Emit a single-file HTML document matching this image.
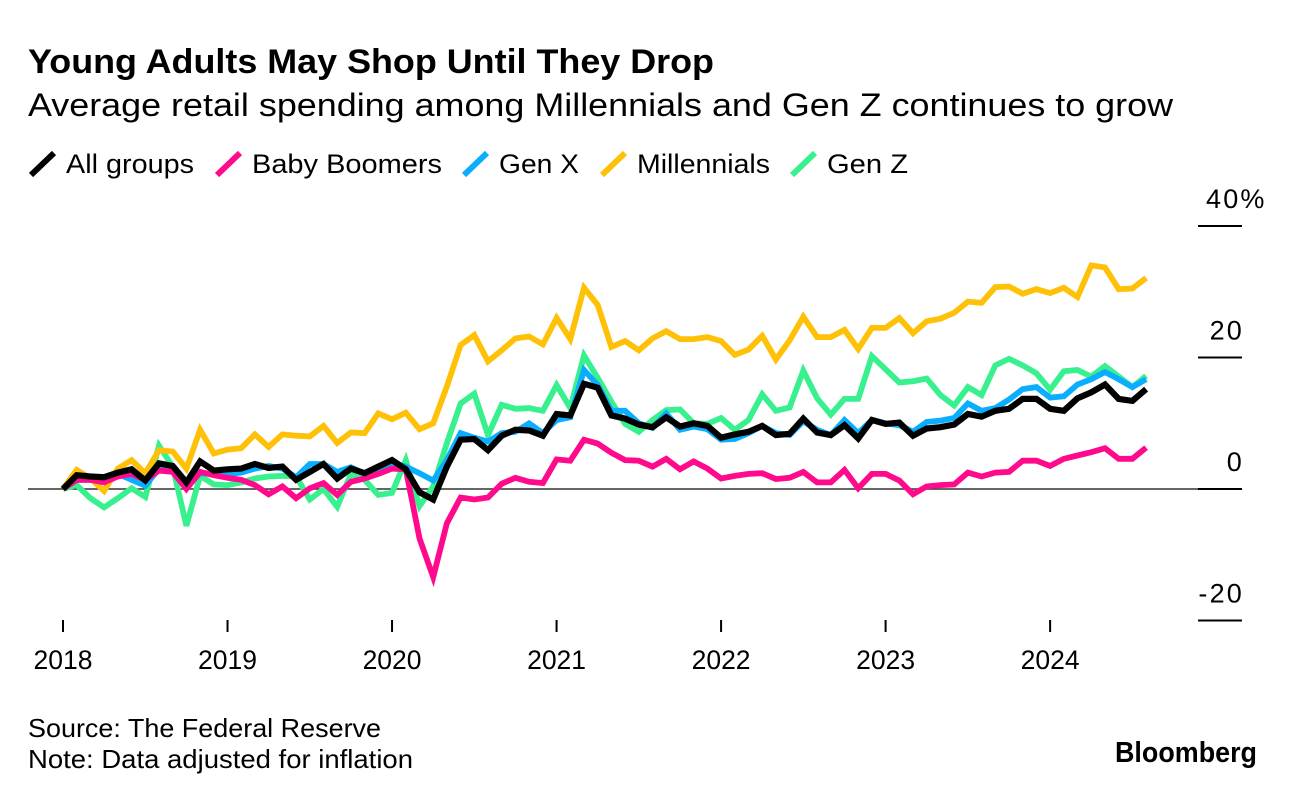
<!DOCTYPE html>
<html lang="en">
<head>
<meta charset="utf-8">
<title>Young Adults May Shop Until They Drop</title>
<style>
html,body{margin:0;padding:0;background:#fff;width:1296px;height:798px;overflow:hidden}
svg{display:block;font-family:"Liberation Sans",sans-serif;fill:#000}
</style>
</head>
<body>
<svg id="chart" width="1296" height="798" viewBox="0 0 1296 798" xmlns="http://www.w3.org/2000/svg">
<rect width="1296" height="798" fill="#fff"/>
<text x="28" y="73" font-size="34" font-weight="700" textLength="686" lengthAdjust="spacingAndGlyphs">Young Adults May Shop Until They Drop</text>
<text x="28" y="116" font-size="32" textLength="1145" lengthAdjust="spacingAndGlyphs">Average retail spending among Millennials and Gen Z continues to grow</text>
<text x="28" y="737" font-size="26" textLength="353" lengthAdjust="spacingAndGlyphs">Source: The Federal Reserve</text>
<text x="28" y="768" font-size="26" textLength="385" lengthAdjust="spacingAndGlyphs">Note: Data adjusted for inflation</text>
<text x="1115" y="762" font-size="29" font-weight="700" textLength="142" lengthAdjust="spacingAndGlyphs">Bloomberg</text>
<g id="legend"></g>
<g id="axes"></g>
<g id="series"></g>
</svg>
<script>
const startYear = 2018;
const yearLabels = [2018, 2019, 2020, 2021, 2022, 2023, 2024];
const yTicks = [40, 20, 0, -20];
const allGroups = [0,2.1,1.9,1.8,2.5,3.0,1.3,3.9,3.5,1.0,4.2,2.8,3.0,3.1,3.8,3.2,3.4,1.4,2.6,3.8,1.6,3.1,2.4,3.4,4.4,3.0,-0.5,-1.6,3.4,7.5,7.6,5.9,8.1,9.0,8.9,8.1,11.4,11.2,16.0,15.4,11.2,10.7,9.8,9.4,10.9,9.5,10,9.6,7.8,8.3,8.7,9.6,8.2,8.4,10.7,8.6,8.2,9.7,7.7,10.5,9.9,10.1,8.1,9.2,9.4,9.8,11.4,11,11.9,12.2,13.7,13.7,12.2,11.9,13.8,14.7,15.9,13.7,13.4,15.2];
const babyBoomers = [0,1.4,1.4,1.0,1.9,2.3,1.4,2.8,2.6,0,2.6,2.1,1.7,1.4,0.6,-0.8,0.4,-1.4,0.1,0.9,-0.9,1.1,1.6,2.3,3.1,3.0,-7.5,-13.4,-5.2,-1.3,-1.6,-1.3,0.8,1.7,1.1,0.9,4.5,4.3,7.5,6.9,5.5,4.4,4.3,3.4,4.6,3.0,4.2,3.1,1.6,2.0,2.3,2.4,1.5,1.7,2.6,1.0,1.0,2.9,0.1,2.3,2.3,1.3,-0.8,0.4,0.6,0.7,2.5,1.9,2.5,2.6,4.3,4.3,3.5,4.6,5.1,5.6,6.2,4.6,4.6,6.3];
const genX = [0,1.4,1.4,1.5,2.3,1.4,0.5,3.1,3.1,0.4,2.4,2.3,2.3,2.5,3.1,3.5,3.1,1.8,3.8,3.8,2.6,3.3,2.3,3.0,4.0,3.4,2.4,1.3,4.4,8.5,7.8,7.2,8.5,8.7,10,8.5,10.5,10.9,18.1,15.8,11.9,11.9,10,9.3,11.5,9,9.5,9.1,7.5,7.6,8.5,9.6,8.5,8.2,10.3,9,8.2,10.5,8.5,10.5,10,9.7,8.7,10.2,10.4,10.8,13,11.9,12.3,13.6,15.2,15.5,13.9,14.1,15.9,16.7,17.8,16.7,15.5,16.7];
const millennials = [0,2.9,1.6,-0.3,3.1,4.4,2.4,5.9,5.7,3.1,9,5.4,6,6.2,8.3,6.4,8.3,8.1,8,9.6,7,8.6,8.5,11.5,10.6,11.6,9.1,10,15.6,21.9,23.4,19.4,21.1,22.9,23.2,22,26,22.8,30.6,28,21.6,22.5,21.1,22.9,24,22.8,22.8,23.1,22.5,20.4,21.2,23.3,19.7,22.6,26.2,23.1,23.1,24.2,21.3,24.5,24.5,26,23.7,25.5,25.9,26.8,28.5,28.3,30.7,30.8,29.7,30.4,29.8,30.6,29.2,34,33.7,30.4,30.5,32.1];
const genZ = [0,0.6,-1.4,-2.8,-1.4,0.1,-1.2,6.6,3.4,-5.6,2,0.7,0.6,1,1.6,1.9,2,1.9,-1.6,0,-2.7,2.3,1.4,-0.9,-0.6,4.4,-2.6,0.4,7,13,14.5,8.2,12.8,12.2,12.3,11.9,15.8,12.3,20.3,16.9,13.3,9.9,8.7,10.5,12,12.1,10,9.9,10.8,9,10.5,14.4,11.9,12.4,18,13.8,11.3,13.7,13.7,20.2,18.2,16.2,16.4,16.8,14.3,12.7,15.5,14.3,18.8,19.8,18.8,17.6,15.1,17.9,18.1,17.1,18.7,17.1,15.5,17.2];
const legendNames = ["All groups", "Baby Boomers", "Gen X", "Millennials", "Gen Z"];

const svgNS = "http://www.w3.org/2000/svg";
const xOfMonth = m => 63 + m * 13.71;
const xOfYear = y => xOfMonth((y - startYear) * 12);
const yOfValue = v => 489 - v * 6.575;
const mk = (tag, parent, props) => {
  const el = document.createElementNS(svgNS, tag);
  Object.keys(props).forEach(k => el.setAttribute(k, props[k]));
  parent.appendChild(el);
  return el;
};

const axes = document.getElementById("axes");
const zeroLine = mk("line", axes, {x1: 28, x2: 1198, y1: yOfValue(0), y2: yOfValue(0), stroke: "#333", "stroke-width": 1.6});


yTicks.forEach(v => {
  const tick = mk("line", axes, {x1: 1198, x2: 1242, y1: yOfValue(v), y2: yOfValue(v), stroke: "#000", "stroke-width": 2});
  
  
  const label = mk("text", axes, {x: v === 40 ? 1206 : 1244, y: yOfValue(v) - 18, "font-size": 27, "letter-spacing": 2.2, "text-anchor": v === 40 ? "start" : "end"});
  
  
  label.textContent = v === 40 ? v + "%" : String(v);
});
yearLabels.forEach(y => {
  const tick = mk("line", axes, {x1: xOfYear(y), x2: xOfYear(y), y1: 620, y2: 632, stroke: "#000", "stroke-width": 2});
  
  
  const label = mk("text", axes, {x: xOfYear(y), y: 669, "font-size": 26.5, "text-anchor": "middle"});
  
  
  label.textContent = String(y);
});

const linePath = vals => vals.map((v, i) => (i ? "L" : "M") + xOfMonth(i).toFixed(1) + " " + yOfValue(v).toFixed(1)).join("");
const seriesLayer = document.getElementById("series");

const lineZ = mk("path", seriesLayer, {d: linePath(genZ), fill: "none", stroke: "#39f08f", "stroke-width": 5.8, "stroke-linejoin": "miter"});


const lineMil = mk("path", seriesLayer, {d: linePath(millennials), fill: "none", stroke: "#ffc107", "stroke-width": 5.8, "stroke-linejoin": "miter"});


const lineX = mk("path", seriesLayer, {d: linePath(genX), fill: "none", stroke: "#0aaeff", "stroke-width": 5.8, "stroke-linejoin": "miter"});


const lineB = mk("path", seriesLayer, {d: linePath(babyBoomers), fill: "none", stroke: "#ff0a8c", "stroke-width": 5.8, "stroke-linejoin": "miter"});


const lineAll = mk("path", seriesLayer, {d: linePath(allGroups), fill: "none", stroke: "#000", "stroke-width": 6.2, "stroke-linejoin": "miter"});



const legend = document.getElementById("legend");
const legendColors = ["#000", "#ff0a8c", "#0aaeff", "#ffc107", "#39f08f"];
const legendSwatchX = [31, 217, 464, 602, 792];
const legendTextWidth = [128, 190, 80, 133, 81];
legendNames.forEach((name, i) => {
  const sw = mk("line", legend, {x1: legendSwatchX[i], y1: 175, x2: legendSwatchX[i] + 23, y2: 153, stroke: legendColors[i], "stroke-width": 6});
  
  
  const t = mk("text", legend, {x: legendSwatchX[i] + 35, y: 173, "font-size": 27, textLength: legendTextWidth[i], lengthAdjust: "spacingAndGlyphs"});
  
  
  t.textContent = name;
});
</script>
</body>
</html>
